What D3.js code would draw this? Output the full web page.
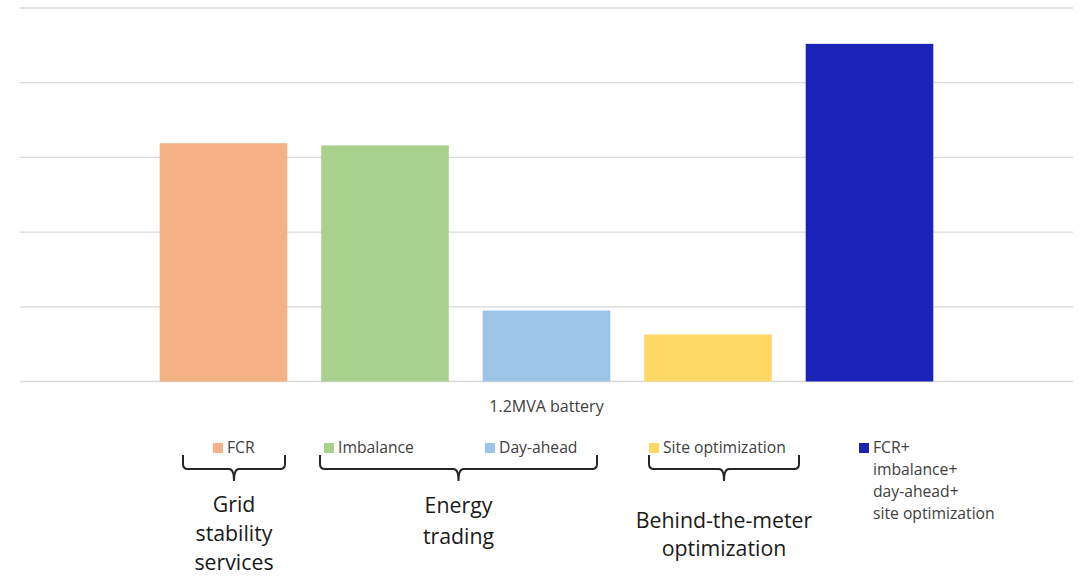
<!DOCTYPE html>
<html>
<head>
<meta charset="utf-8">
<script src="https://cdn.jsdelivr.net/npm/d3@7"></script>
<style>
  html, body { margin: 0; padding: 0; background: #fff; }
  svg { display: block; font-family: "Open Sans", Lato, sans-serif; }
</style>
</head>
<body>
<svg id="chart" width="1081" height="576"></svg>
<script>
// Revenue potential per strategy for a 1.2MVA battery (relative units)
const categories = ["FCR", "Imbalance", "Day-ahead", "Site optimization", "FCR+ imbalance+ day-ahead+ site optimization"];
const values = [3.19, 3.16, 0.95, 0.63, 4.52];
const colors = ["#F4B183", "#A9D18E", "#9DC3E6", "#FFD966", "#1A22B8"];
const yTicks = [0, 1, 2, 3, 4, 5];
const axisTitle = "1.2MVA battery";

// Legend entries (label lines) and group brackets beneath them
const legendLines = [["FCR"], ["Imbalance"], ["Day-ahead"], ["Site optimization"], ["FCR+", "imbalance+", "day-ahead+", "site optimization"]];
const groups = [
  { lines: ["Grid", "stability", "services"], x0: 183, x1: 285, lineGap: 29, baseY: 511.5 },
  { lines: ["Energy", "trading"], x0: 320, x1: 597, lineGap: 31, baseY: 513 },
  { lines: ["Behind-the-meter", "optimization"], x0: 649, x1: 799, lineGap: 27.5, baseY: 528 }
];

const svg = d3.select("#chart");
const plot = { left: 20, right: 1073, top: 8, bottom: 381.5 };

const x = d3.scaleBand()
  .domain(categories)
  .range([plot.left, plot.right])
  .paddingInner(0.21)
  .paddingOuter(0.865);

const y = d3.scaleLinear()
  .domain([0, 5])
  .range([plot.bottom, plot.top]);

// Horizontal gridlines
svg.append("g")
  .selectAll("line")
  .data(yTicks)
  .join("line")
  .attr("x1", plot.left)
  .attr("x2", plot.right)
  .attr("y1", d => y(d))
  .attr("y2", d => y(d))
  .attr("stroke", "#D9D9D9")
  .attr("stroke-width", 1.3);

// Bars
svg.append("g")
  .selectAll("rect")
  .data(categories)
  .join("rect")
  .attr("x", d => x(d))
  .attr("width", x.bandwidth())
  .attr("y", (d, i) => y(values[i]))
  .attr("height", (d, i) => y(0) - y(values[i]))
  .attr("fill", (d, i) => colors[i]);

// Category axis title
svg.append("text")
  .attr("x", (plot.left + plot.right) / 2)
  .attr("y", 412)
  .attr("text-anchor", "middle")
  .attr("font-size", 16)
  .attr("fill", "#404040")
  .text(axisTitle);

// Legend
const legendX = [213, 324, 485, 649, 859];
const legendY = 443;
const legend = svg.append("g");
legendLines.forEach((lines, i) => {
  legend.append("rect")
    .attr("x", legendX[i])
    .attr("y", legendY)
    .attr("width", 10)
    .attr("height", 10)
    .attr("fill", colors[i]);
  const t = legend.append("text")
    .attr("x", legendX[i] + 14)
    .attr("y", legendY + 10)
    .attr("font-size", 15.7)
    .attr("fill", "#404040");
  lines.forEach((ln, j) => {
    t.append("tspan")
      .attr("x", legendX[i] + 14)
      .attr("dy", j === 0 ? 0 : 22)
      .text(ln);
  });
});

// Curly brackets grouping legend entries
function bracePath(x0, x1, top, mid, tip) {
  const r = 5, c = (x0 + x1) / 2;
  return `M${x0},${top} L${x0},${mid - r} Q${x0},${mid} ${x0 + r},${mid} ` +
         `L${c - r},${mid} Q${c},${mid} ${c},${tip} ` +
         `Q${c},${mid} ${c + r},${mid} L${x1 - r},${mid} Q${x1},${mid} ${x1},${mid - r} L${x1},${top}`;
}
groups.forEach(g => {
  svg.append("path")
    .attr("d", bracePath(g.x0, g.x1, 455, 469, 481))
    .attr("fill", "none")
    .attr("stroke", "#262626")
    .attr("stroke-width", 2);
  const t = svg.append("text")
    .attr("x", (g.x0 + g.x1) / 2)
    .attr("y", g.baseY)
    .attr("text-anchor", "middle")
    .attr("font-size", 21.3)
    .attr("fill", "#1a1a1a");
  g.lines.forEach((ln, j) => {
    t.append("tspan")
      .attr("x", (g.x0 + g.x1) / 2)
      .attr("dy", j === 0 ? 0 : g.lineGap)
      .text(ln);
  });
});
</script>
</body>
</html>
